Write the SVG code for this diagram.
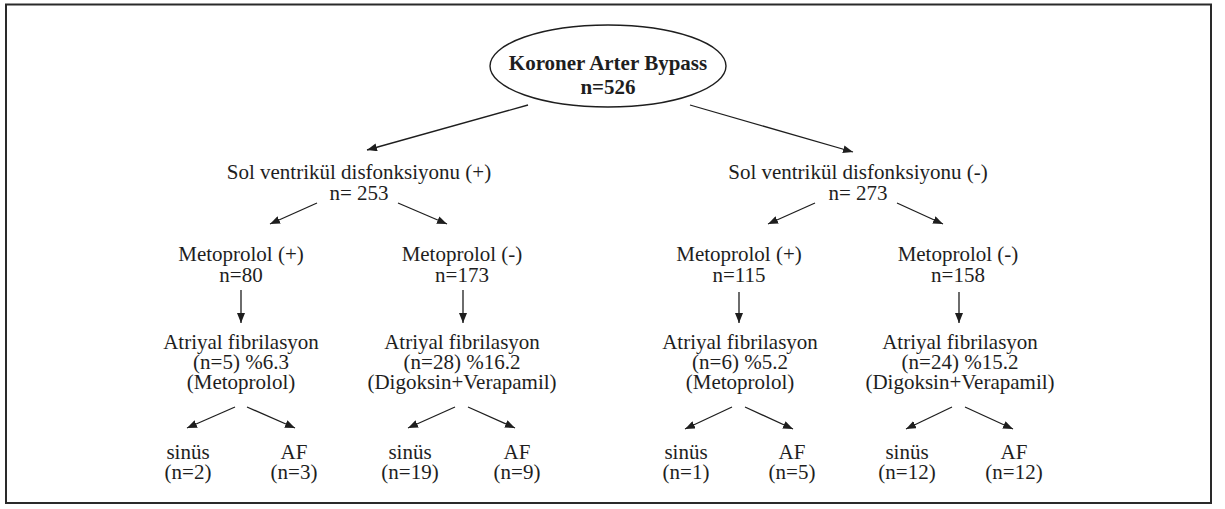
<svg xmlns="http://www.w3.org/2000/svg" width="1225" height="509" viewBox="0 0 1225 509">
<style>
text{font-family:"Liberation Serif","Times New Roman",serif;font-size:21px;fill:#1e1e1e;text-anchor:middle}
.b{font-weight:bold}
.c{stroke:#1e1e1e;stroke-width:1.3;fill:none;marker-end:url(#ah)}
</style>
<defs>
<marker id="ah" markerUnits="userSpaceOnUse" markerWidth="11" markerHeight="8" refX="10" refY="4" orient="auto">
<path d="M0,0 L10,4 L0,8 z" fill="#1e1e1e"/>
</marker>
</defs>
<rect x="0" y="0" width="1225" height="509" fill="#fff"/>
<rect x="6" y="4.5" width="1205" height="498.5" fill="none" stroke="#2a2a2a" stroke-width="2"/>
<g id="root">
<ellipse cx="608" cy="66" rx="118" ry="41" fill="none" stroke="#1e1e1e" stroke-width="1.4"/>
<text class="b" x="608" y="70">Koroner Arter Bypass</text>
<text class="b" x="608" y="94">n=526</text>
</g>
<g id="lvd-pos"><text x="359" y="179">Sol ventrikül disfonksiyonu (+)</text><text x="359" y="200">n= 253</text></g>
<g id="lvd-neg"><text x="858" y="179">Sol ventrikül disfonksiyonu (-)</text><text x="858" y="200">n= 273</text></g>
<g id="m1"><text x="241" y="261">Metoprolol (+)</text><text x="241" y="282">n=80</text></g>
<g id="m2"><text x="462" y="261">Metoprolol (-)</text><text x="462" y="282">n=173</text></g>
<g id="m3"><text x="739" y="261">Metoprolol (+)</text><text x="739" y="282">n=115</text></g>
<g id="m4"><text x="958" y="261">Metoprolol (-)</text><text x="958" y="282">n=158</text></g>
<g id="af1"><text x="241" y="349">Atriyal fibrilasyon</text><text x="241" y="369">(n=5) %6.3</text><text x="241" y="389">(Metoprolol)</text></g>
<g id="af2"><text x="462" y="349">Atriyal fibrilasyon</text><text x="462" y="369">(n=28) %16.2</text><text x="462" y="389">(Digoksin+Verapamil)</text></g>
<g id="af3"><text x="740" y="349">Atriyal fibrilasyon</text><text x="740" y="369">(n=6) %5.2</text><text x="740" y="389">(Metoprolol)</text></g>
<g id="af4"><text x="960" y="349">Atriyal fibrilasyon</text><text x="960" y="369">(n=24) %15.2</text><text x="960" y="389">(Digoksin+Verapamil)</text></g>
<g id="s1"><text x="188" y="459">sinüs</text><text x="188" y="479">(n=2)</text></g>
<g id="a1"><text x="294" y="459">AF</text><text x="294" y="479">(n=3)</text></g>
<g id="s2"><text x="410" y="459">sinüs</text><text x="410" y="479">(n=19)</text></g>
<g id="a2"><text x="517" y="459">AF</text><text x="517" y="479">(n=9)</text></g>
<g id="s3"><text x="686" y="459">sinüs</text><text x="686" y="479">(n=1)</text></g>
<g id="a3"><text x="792" y="459">AF</text><text x="792" y="479">(n=5)</text></g>
<g id="s4"><text x="907" y="459">sinüs</text><text x="907" y="479">(n=12)</text></g>
<g id="a4"><text x="1014" y="459">AF</text><text x="1014" y="479">(n=12)</text></g>
<g id="connectors">
<line class="c" x1="528" y1="105" x2="367" y2="150"/>
<line class="c" x1="690" y1="105" x2="853" y2="152"/>
<line class="c" x1="317" y1="203" x2="270" y2="224"/>
<line class="c" x1="398" y1="203" x2="447" y2="224"/>
<line class="c" x1="815" y1="203" x2="768" y2="224"/>
<line class="c" x1="897" y1="203" x2="943" y2="224"/>
<line class="c" x1="241" y1="290" x2="241" y2="323"/>
<line class="c" x1="463" y1="290" x2="463" y2="323"/>
<line class="c" x1="739" y1="292" x2="739" y2="323"/>
<line class="c" x1="959" y1="292" x2="959" y2="323"/>
<line class="c" x1="235" y1="407" x2="187" y2="428"/>
<line class="c" x1="247" y1="407" x2="295" y2="428"/>
<line class="c" x1="455" y1="407" x2="408" y2="428"/>
<line class="c" x1="468" y1="407" x2="515" y2="428"/>
<line class="c" x1="732" y1="407" x2="685" y2="429"/>
<line class="c" x1="745" y1="407" x2="793" y2="429"/>
<line class="c" x1="952" y1="407" x2="906" y2="429"/>
<line class="c" x1="965" y1="407" x2="1013" y2="429"/>
</g>
</svg>
